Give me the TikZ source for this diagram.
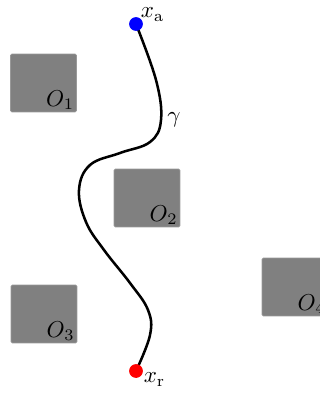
\documentclass[tikz,border=0pt]{standalone}
\begin{document}
\begin{tikzpicture}[x=0.435pt,y=-0.435pt,
  obst/.style={rectangle, fill=black!50, draw=black!40, line width=0.3pt, rounded corners=0.6pt, minimum width=28.7pt, minimum height=25.2pt, inner sep=0pt},
  olab/.style={anchor=south east, inner sep=1pt},
  pt/.style={circle, inner sep=0pt, minimum size=6pt}]
\useasboundingbox (0,0) rectangle (320,400);
\clip (0,0) rectangle (320,400);
\node[obst] (o1) at (43.5,83) {};
\node[obst] (o2) at (147,198) {};
\node[obst] (o3) at (44,314) {};
\node[obst] (o4) at (295,287) {};
\node[olab] (l1) at (o1.south east) {$O_1$};
\node[olab] (l2) at (o2.south east) {$O_2$};
\node[olab] (l3) at (o3.south east) {$O_3$};
\node[olab] (l4) at (o4.south east) {$O_4$};
\draw[line width=1.1pt] plot[smooth, tension=0.65] coordinates {(136,24) (156,80) (161,120) (150,142) (120,153) (90,165) (79,190) (86,222) (104,250) (130,283) (148,310) (150,335) (136,371)};
\node[pt, fill=blue] (xa) at (136,24) {};
\node[pt, fill=red] (xr) at (136,371) {};
\node[anchor=south west, inner sep=1pt] (lxa) at (138,24) {$x_{\mathrm{a}}$};
\node[anchor=north west, inner sep=1pt] (lxr) at (141,370) {$x_{\mathrm{r}}$};
\node (g) at (174,120) {$\gamma$};
\end{tikzpicture}
\end{document}
